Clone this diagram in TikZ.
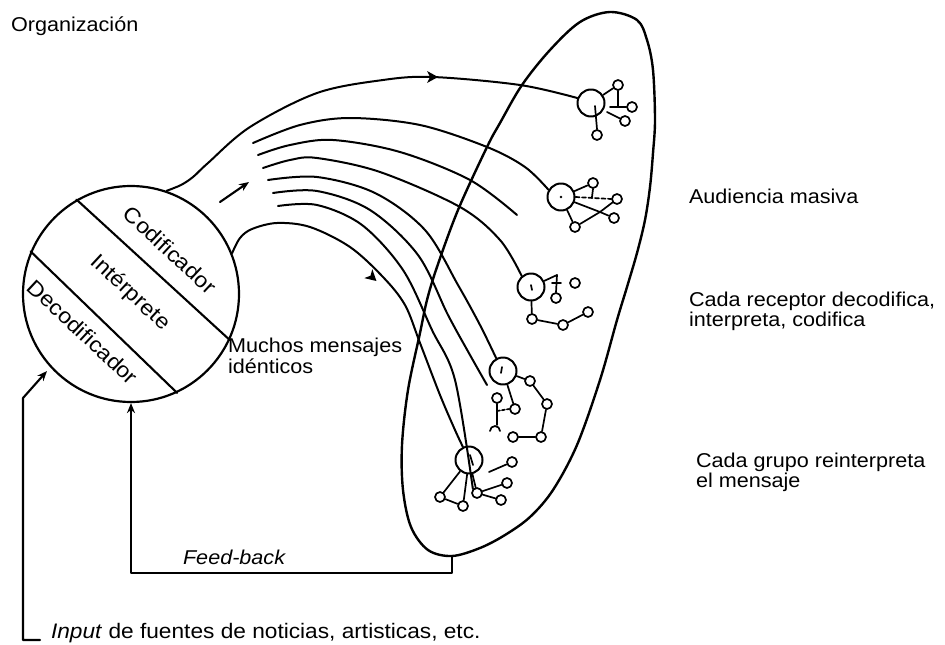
\documentclass[tikz,border=0pt]{standalone}
\usepackage{fontspec}
\setmainfont[FakeStretch=1.08]{Liberation Sans}
\usetikzlibrary{arrows.meta}
\begin{document}
\begin{tikzpicture}[x=1pt,y=-1pt,
  line width=2.1pt, line cap=round, line join=round,
  >={Stealth[length=10pt,width=8pt]},
  lbl/.style={font=\fontsize{20}{20}\selectfont, inner sep=0pt, anchor=base west, align=left},
  inlbl/.style={font=\fontsize{21.5}{22}\selectfont, inner sep=0pt, rotate=-43},
  bigc/.style={circle, draw, line width=2pt, minimum size=27pt, inner sep=0pt},
  smc/.style={circle, draw, line width=1.7pt, minimum size=10pt, inner sep=0pt},
  msg/.style={line width=2pt},
  thin/.style={line width=1.7pt},
  midarrow/.style={fill=black, draw=none}
]
\useasboundingbox (0,0) rectangle (945,645);

% organisation circle
\node[circle, draw, minimum size=216pt, inner sep=0pt, line width=2.2pt] (org) at (131,294) {};
\draw (org.120) -- (org.-25);
\draw (org.157) -- (org.-65);
\node[inlbl] (tcod) at (170,250) {Codificador};
\node[inlbl] (tint) at (130,293) {Intérprete};
\node[inlbl] (tdec) at (83,332) {Decodificador};

% audience ellipse
\draw[line width=2.4pt] plot[smooth cycle, tension=0.55] coordinates {
  (610,12) (637,20) (647,40) (653,70) (655,120) (653,153) (650,187)
  (645,220) (637,253) (627,287) (617,320) (600,380) (577,445) (553,490)
  (530,517) (505,535) (480,548) (452,556) (428,550) (411,527) (403,490)
  (402,445) (408,390) (420,333) (427,300) (437,267) (458,210) (487,147)
  (500,123) (522,85) (550,50) (580,22)};
\coordinate (fbtop) at (452,556);

% cluster 1
\node[bigc] (c1) at (591,103) {};
\node[smc] (a1) at (618,85) {};
\node[smc] (a2) at (632,107) {};
\node[smc] (a3) at (625,121) {};
\node[smc] (a4) at (597,135) {};
\draw[thin] (c1) -- (a1);
\draw[thin] (a1.south) -- (618,107);
\draw[thin] (610,107) -- (a2.west);
\draw[thin] (595,106) -- (a4.north);
\draw[thin] (607,112) -- (a3);

% cluster 2
\node[bigc] (c2) at (561,197) {};
\node[smc] (b1) at (593,183) {};
\node[smc] (b2) at (617,199) {};
\node[smc] (b3) at (614,218) {};
\node[smc] (b4) at (575,227) {};
\coordinate (j2) at (600,212);
\fill (c2) circle (1.4pt);
\draw[thin] (c2) -- (b1);
\draw[thin] (b1.south) -- (592,197);
\draw[thin, dashed, dash pattern=on 4pt off 2.5pt] (c2.east) -- (b2.west);
\draw[thin] (c2) -- (j2);
\draw[thin] (b4) -- (j2);
\draw[thin] (j2) -- (b2);
\draw[thin] (j2) -- (b3);
\draw[thin] (c2) -- (b4);

% cluster 3
\node[bigc] (c3) at (531,287) {};
\node[smc] (d1) at (575,283) {};
\node[smc] (d2) at (556,298) {};
\node[smc] (d3) at (532,319) {};
\node[smc] (d4) at (563,325) {};
\node[smc] (d5) at (588,312) {};
\draw[thin] (531,285) -- (532,290);
\draw[thin] (c3) -- (557,275);
\draw[thin] (557,275) -- (d2.north);
\draw[thin] (552,283) -- (561,283);
\draw[thin] (c3) -- (d3);
\draw[thin] (d3) -- (d4);
\draw[thin] (d4) -- (d5);

% cluster 4
\node[bigc] (c4) at (503,371) {};
\node[smc] (e1) at (530,381) {};
\node[smc] (e2) at (547,404) {};
\node[smc] (e3) at (541,437) {};
\node[smc] (e4) at (513,437) {};
\node[smc] (e5) at (497,398) {};
\node[smc] (e6) at (515,409) {};
\draw[thin] (502,367) -- (501,373);
\draw[thin] (c4) -- (e6);
\draw[thin] (c4) -- (e1);
\draw[thin] (e1) -- (e2);
\draw[thin] (e2) -- (e3);
\draw[thin] (e3) -- (e4);
\draw[thin] (e5.south) -- (497,425);
\draw[thin] (490,431) arc[start angle=180, end angle=0, radius=5pt];
\draw[thin, dashed, dash pattern=on 3pt off 2pt] (497,411) -- (e6.west);

% cluster 5
\node[bigc] (c5) at (469,460) {};
\node[smc] (f1) at (440,497) {};
\node[smc] (f2) at (463,506) {};
\node[smc] (f3) at (477,493) {};
\node[smc] (f4) at (512,462) {};
\node[smc] (f5) at (507,483) {};
\node[smc] (f6) at (501,500) {};
\draw[thin] (470,455) -- (473,465);
\draw[thin] (c5) -- (f1);
\draw[thin] (c5) -- (f2);
\draw[thin] (f1) -- (f2);
\draw[thin] (c5) -- (f3);
\draw[thin] (489,472) -- (f4);
\draw[thin] (f3) -- (f5);
\draw[thin] (f3) -- (f6);

% messages
\draw[msg] plot[smooth, tension=0.55] coordinates {
  (org.71) (181,185) (193,177) (208,163) (250,127) (317,93) (383,80) (433,77) (520,85) (c1.160)};
\draw[msg] plot[smooth, tension=0.55] coordinates {
  (253,143) (300,125) (350,118) (420,125) (487,147) (525,167) (c2.150)};
\draw[msg] plot[smooth, tension=0.55] coordinates {
  (258,155) (290,145) (333,140) (400,152) (470,180) (517,215)};
\draw[msg] plot[smooth, tension=0.55] coordinates {
  (263,168) (290,160) (317,158) (380,172) (460,207) (500,240) (c3.130)};
\draw[msg] plot[smooth, tension=0.55] coordinates {
  (268,180) (317,177) (375,193) (425,230) (458,285) (480,325) (c4.118)};
\draw[msg] plot[smooth, tension=0.55] coordinates {
  (273,193) (317,191) (370,210) (418,255) (448,315) (470,355) (487,385)};
\draw[msg] plot[smooth, tension=0.55] coordinates {
  (278,206) (317,205) (362,225) (403,270) (432,330) (455,380) (f3.north west) };
\draw[msg] plot[smooth, tension=0.55] coordinates {
  (org.22) (240,238) (252,229) (277,223) (310,227) (350,247) (383,277) (405,305) (420,343) (440,395) (455,430) (c5.115)};

% mid arrowheads
\fill[midarrow] (438,77) -- (427,71) -- (430,77) -- (427,83) -- cycle;
\fill[midarrow, rotate around={-42:(372,277)}] (378,277) -- (367,271) -- (370,277) -- (367,283) -- cycle;

% outgoing arrow
\coordinate (fs) at (220,202);
\coordinate (fe) at (249,182);
\draw[->] (fs) -- (fe);

% feedback
\draw[->] (fbtop) -- (452,573) -| (org.south);
% input
\coordinate (inc) at (23,398);
\coordinate (inb) at (23,640);
\coordinate (ine) at (40,640);
\coordinate (intip) at (47,371);
\draw[->] (ine) -- (inb) -- (inc) -- (intip);

% labels
\node[lbl] (torg) at (10,31) {Organización};
\node[lbl] (taud) at (688,203) {Audiencia masiva};
\node[lbl] (trec) at (688,326) {Cada receptor decodifica,\\interpreta, codifica};
\node[lbl] (tgru) at (695,487) {Cada grupo reinterpreta\\el mensaje};
\node[lbl] (tmuc) at (227,373) {Muchos mensajes\\[1pt]idénticos};
\node[lbl, font=\fontsize{20}{20}\selectfont\itshape] (tfb) at (182,564) {Feed-back};
\node[lbl, font=\fontsize{21}{21}\selectfont] (tin) at (50,638) {\textit{Input} de fuentes de noticias, artisticas, etc.};
\end{tikzpicture}
\end{document}
